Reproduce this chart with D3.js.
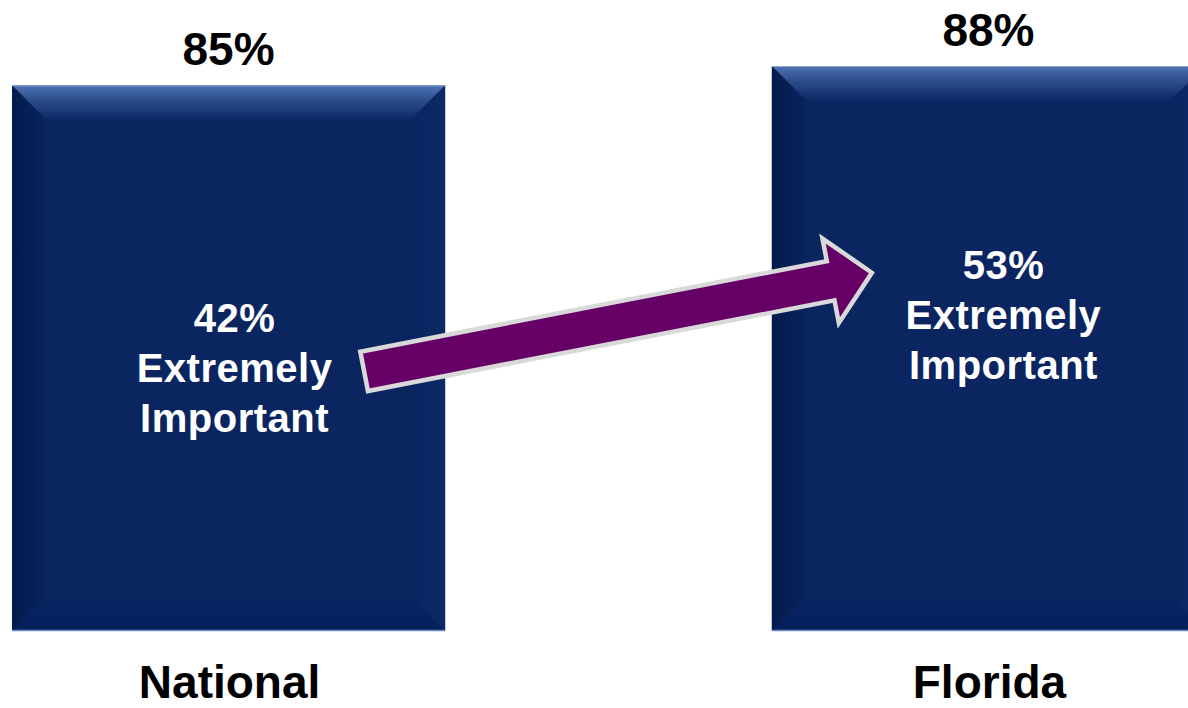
<!DOCTYPE html>
<html>
<head>
<meta charset="utf-8">
<script src="https://cdn.jsdelivr.net/npm/d3@7"></script>
<style>
  html, body { margin: 0; padding: 0; background: #fff; }
  svg { display: block; }
  text { font-family: "Liberation Sans", Arial, sans-serif; font-weight: bold; }
</style>
</head>
<body>
<div id="chart"></div>
<script>
// data
var categories = ["National", "Florida"];
var totals = [85, 88];                 // % important (bar height)
var extremely = [42, 53];              // % extremely important
var innerLines = ["Extremely", "Important"];

var width = 1188, height = 708;

var svg = d3.select("#chart").append("svg")
    .attr("width", width)
    .attr("height", height);

var x = d3.scaleBand()
    .domain(categories)
    .range([12, 1205])
    .paddingInner(0.43)
    .paddingOuter(0);

var y = d3.scaleLinear()
    .domain([0, 100])
    .range([631, -11]);

var bw = x.bandwidth();
var bevel = 36;

// gradients for the bevelled bars
var defs = svg.append("defs");
function grad (id, x1, y1, x2, y2, stops) {
  var g = defs.append("linearGradient").attr("id", id)
    .attr("x1", x1).attr("y1", y1).attr("x2", x2).attr("y2", y2);
  stops.forEach(function (s) {
    g.append("stop").attr("offset", s[0]).attr("stop-color", s[1]);
  });
}
grad("bevTop", 0, 0, 0, 1, [[0, "#4f74b6"], [0.35, "#30528f"], [1, "#0a2561"]]);
grad("bevLeft", 0, 0, 1, 0, [[0, "#041a4b"], [1, "#0a2560"]]);
grad("bevRight", 1, 0, 0, 0, [[0, "#0c2a66"], [1, "#0a2560"]]);
grad("bevBottom", 0, 1, 0, 0, [[0, "#031f5c"], [1, "#0a2560"]]);

var bars = svg.selectAll("g.bar")
    .data(categories)
    .enter().append("g")
    .attr("class", "bar");

bars.each(function (d, i) {
  var g = d3.select(this);
  var x0 = x(d), x1 = x(d) + bw;
  var y0 = y(totals[i]), y1 = y(0);
  var b = bevel;

  g.append("rect")
    .attr("x", x0).attr("y", y0)
    .attr("width", bw).attr("height", y1 - y0)
    .attr("fill", "#0a2560");

  var pts = {
    top: [[x0, y0], [x1, y0], [x1 - b, y0 + b], [x0 + b, y0 + b]],
    left: [[x0, y0], [x0 + b, y0 + b], [x0 + b, y1 - b], [x0, y1]],
    right: [[x1, y0], [x1, y1], [x1 - b, y1 - b], [x1 - b, y0 + b]],
    bottom: [[x0, y1], [x0 + b, y1 - b], [x1 - b, y1 - b], [x1, y1]]
  };
  g.append("polygon").attr("points", pts.left.join(" ")).attr("fill", "url(#bevLeft)");
  g.append("polygon").attr("points", pts.right.join(" ")).attr("fill", "url(#bevRight)");
  g.append("polygon").attr("points", pts.bottom.join(" ")).attr("fill", "url(#bevBottom)");
  g.append("polygon").attr("points", pts.top.join(" ")).attr("fill", "url(#bevTop)");

  // thin light edge on top and bottom
  g.append("line")
    .attr("x1", x0).attr("x2", x1).attr("y1", y0 + 0.5).attr("y2", y0 + 0.5)
    .attr("stroke", "#8fa6cf").attr("stroke-width", 1);
  g.append("line")
    .attr("x1", x0).attr("x2", x1).attr("y1", y1 - 0.5).attr("y2", y1 - 0.5)
    .attr("stroke", "#6d89c2").attr("stroke-width", 1.5);
});

// value on top of each bar
svg.selectAll("text.total")
  .data(categories)
  .enter().append("text")
    .attr("class", "total")
    .attr("x", function (d) { return x(d) + bw / 2; })
    .attr("y", function (d, i) { return y(totals[i]) - 20; })
    .attr("text-anchor", "middle")
    .attr("font-size", 46)
    .attr("fill", "#000")
    .text(function (d, i) { return totals[i] + "%"; });

// category labels under the bars
svg.selectAll("text.cat")
  .data(categories)
  .enter().append("text")
    .attr("class", "cat")
    .attr("x", function (d) { return x(d) + bw / 2 + 1; })
    .attr("y", 698)
    .attr("text-anchor", "middle")
    .attr("font-size", 46)
    .attr("fill", "#000")
    .text(function (d) { return d; });

// arrow from national to florida "extremely important"
var tail = [x("National") + bw - 81, y(extremely[0]) + 10];
var tip = [x("Florida") + 100, y(extremely[1]) - 18];
var len = Math.hypot(tip[0] - tail[0], tip[1] - tail[1]);
var ang = Math.atan2(tip[1] - tail[1], tip[0] - tail[0]) * 180 / Math.PI;
var sh = 20, hh = 43, hl = 42;
var arrowPts = [[0, -sh], [len - hl, -sh], [len - hl, -hh], [len, 0],
                [len - hl, hh], [len - hl, sh], [0, sh]];

svg.append("path")
  .attr("transform", "translate(" + tail[0] + "," + tail[1] + ") rotate(" + ang + ")")
  .attr("d", d3.line()(arrowPts) + "Z")
  .attr("fill", "#660066")
  .attr("stroke", "#d9d9d9")
  .attr("stroke-width", 4.5)
  .attr("stroke-linejoin", "miter");

// inner labels
var innerPos = [
  { dx: 6, base: 332 },
  { dx: 15, base: 279 }
];
categories.forEach(function (d, i) {
  var cx = x(d) + bw / 2 + innerPos[i].dx;
  var t = svg.append("text")
    .attr("text-anchor", "middle")
    .attr("font-size", 40)
    .attr("letter-spacing", 0.5)
    .attr("fill", "#fff");
  [extremely[i] + "%"].concat(innerLines).forEach(function (line, j) {
    t.append("tspan")
      .attr("x", cx)
      .attr("y", innerPos[i].base + j * 50)
      .text(line);
  });
});
</script>
</body>
</html>
